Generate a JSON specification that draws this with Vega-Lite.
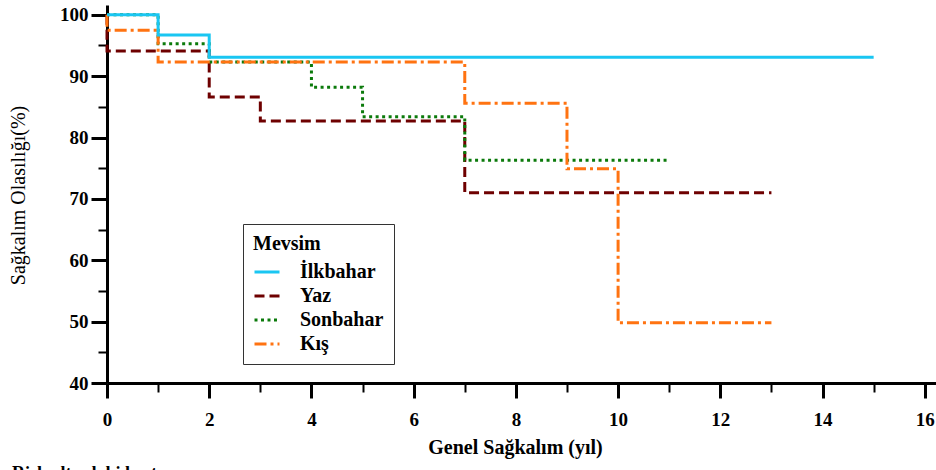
{
  "$schema": "https://vega.github.io/schema/vega-lite/v6.json",
  "autosize": {"type": "none"},
  "width": 829,
  "height": 378,
  "padding": {"left": 107, "top": 5, "right": 0, "bottom": 87},
  "background": "white",
  "title": {
    "text": "Risk altındaki hasta sayısı",
    "orient": "bottom",
    "anchor": "start",
    "frame": "group",
    "dx": -95,
    "offset": 8,
    "baseline": "top",
    "font": "Liberation Serif",
    "fontSize": 18,
    "fontWeight": "bold",
    "color": "black"
  },
  "data": {
    "values": [
      {"series": "Yaz", "i": 0, "t": 0, "s": 100},
      {"series": "Yaz", "i": 1, "t": 0, "s": 94.1},
      {"series": "Yaz", "i": 2, "t": 2, "s": 86.6},
      {"series": "Yaz", "i": 3, "t": 3, "s": 82.7},
      {"series": "Yaz", "i": 4, "t": 7, "s": 71.0},
      {"series": "Yaz", "i": 5, "t": 13, "s": 71.0},
      {"series": "Sonbahar", "i": 0, "t": 0, "s": 100},
      {"series": "Sonbahar", "i": 1, "t": 1, "s": 95.3},
      {"series": "Sonbahar", "i": 2, "t": 2, "s": 92.3},
      {"series": "Sonbahar", "i": 3, "t": 4, "s": 88.2},
      {"series": "Sonbahar", "i": 4, "t": 5, "s": 83.4},
      {"series": "Sonbahar", "i": 5, "t": 7, "s": 76.3},
      {"series": "Sonbahar", "i": 6, "t": 11, "s": 76.3},
      {"series": "Kış", "i": 0, "t": 0, "s": 100},
      {"series": "Kış", "i": 1, "t": 0, "s": 97.5},
      {"series": "Kış", "i": 2, "t": 1, "s": 92.3},
      {"series": "Kış", "i": 3, "t": 7, "s": 85.6},
      {"series": "Kış", "i": 4, "t": 9, "s": 74.9},
      {"series": "Kış", "i": 5, "t": 10, "s": 49.8},
      {"series": "Kış", "i": 6, "t": 13, "s": 49.8},
      {"series": "İlkbahar", "i": 0, "t": 0, "s": 100},
      {"series": "İlkbahar", "i": 1, "t": 1, "s": 96.7},
      {"series": "İlkbahar", "i": 2, "t": 2, "s": 93.1},
      {"series": "İlkbahar", "i": 3, "t": 15, "s": 93.1}
    ]
  },
  "mark": {"type": "line", "interpolate": "step-after", "strokeWidth": 3, "clip": false},
  "encoding": {
    "x": {
      "field": "t",
      "type": "quantitative",
      "scale": {"domain": [0, 16.22], "nice": false, "zero": false},
      "axis": {
        "values": [0,1,2,3,4,5,6,7,8,9,10,11,12,13,14,15,16],
        "labelExpr": "datum.value % 2 === 0 ? datum.label : ''",
        "title": "Genel Sağkalım (yıl)",
        "grid": false,
        "domainColor": "black",
        "domainWidth": 3,
        "tickColor": "black",
        "tickSize": {"condition": {"test": "datum.value % 2 === 0", "value": 15}, "value": 9},
        "tickWidth": {"condition": {"test": "datum.value % 2 === 0", "value": 3}, "value": 2},
        "labelFont": "Liberation Serif",
        "labelFontWeight": "bold",
        "labelFontSize": 19,
        "labelColor": "black",
        "labelPadding": 12,
        "labelFlush": false,
        "labelOverlap": false,
        "titleFont": "Liberation Serif",
        "titleFontWeight": "bold",
        "titleFontSize": 20,
        "titleColor": "black",
        "titleBaseline": "middle",
        "titleY": 64,
        "titleX": 408
      }
    },
    "y": {
      "field": "s",
      "type": "quantitative",
      "scale": {"domain": [40, 101.6], "nice": false, "zero": false},
      "axis": {
        "values": [40,45,50,55,60,65,70,75,80,85,90,95,100],
        "labelExpr": "datum.value % 10 === 0 ? datum.label : ''",
        "title": "Sağkalım Olasılığı(%)",
        "grid": false,
        "domainColor": "black",
        "domainWidth": 3,
        "tickColor": "black",
        "tickSize": {"condition": {"test": "datum.value % 10 === 0", "value": 16}, "value": 9},
        "tickWidth": {"condition": {"test": "datum.value % 10 === 0", "value": 3}, "value": 2},
        "labelFont": "Liberation Serif",
        "labelFontWeight": "bold",
        "labelFontSize": 19,
        "labelColor": "black",
        "labelPadding": 3,
        "labelFlush": false,
        "labelOverlap": false,
        "titleFont": "Liberation Serif",
        "titleFontWeight": "normal",
        "titleFontSize": 20,
        "titleColor": "black",
        "titleX": -89,
        "titleY": 190,
        "titleBaseline": "middle"
      }
    },
    "color": {
      "field": "series",
      "type": "nominal",
      "scale": {
        "domain": ["İlkbahar", "Yaz", "Sonbahar", "Kış"],
        "range": ["#1AC6F2", "#6E0000", "#0B7A0B", "#FF7311"]
      },
      "legend": {
        "title": "Mevsim",
        "orient": "none",
        "legendX": 136,
        "legendY": 219,
        "direction": "vertical",
        "strokeColor": "#333333",
        "fillColor": "white",
        "padding": 10,
        "titleFont": "Liberation Serif",
        "titleFontWeight": "bold",
        "titleFontSize": 20,
        "titleColor": "black",
        "titlePadding": 4,
        "labelFont": "Liberation Serif",
        "labelFontWeight": "bold",
        "labelFontSize": 20,
        "labelColor": "black",
        "labelOffset": 19,
        "labelExpr": "datum.label + '     '",
        "symbolType": "stroke",
        "symbolSize": 625,
        "symbolStrokeWidth": 3,
        "rowPadding": 0,
        "offset": 0
      }
    },
    "strokeDash": {
      "field": "series",
      "type": "nominal",
      "scale": {
        "domain": ["İlkbahar", "Yaz", "Sonbahar", "Kış"],
        "range": [[1, 0], [10, 5], [3, 3.5], [12, 4, 3, 4]]
      }
    },
    "order": {"field": "i", "type": "quantitative"}
  },
  "config": {"view": {"stroke": null}}
}
